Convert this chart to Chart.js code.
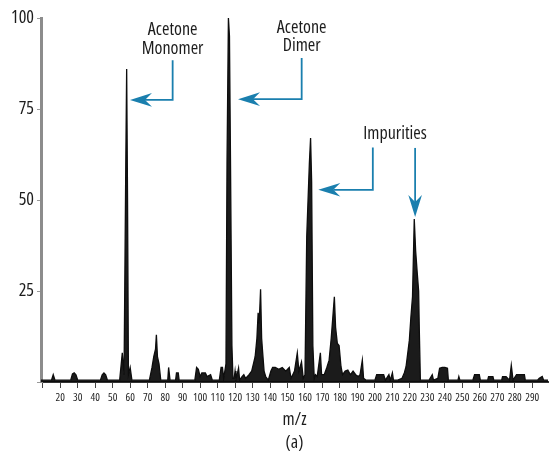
<!DOCTYPE html>
<html><head><meta charset="utf-8">
<script src="https://cdn.jsdelivr.net/npm/chart.js@4.4.1/dist/chart.umd.min.js"></script>
<style>html,body{margin:0;padding:0;background:#fff;}canvas{display:block;}</style>
</head><body>
<canvas id="c" width="551" height="455"></canvas>
<script>
// ---- data ----
const mzValues = [
  9,15,16,17,26,27,28,29,30,43,44,45,46,47,54,55.5,56.5,57.5,58,58.5,59,60,61,
  71,72.5,73.5,74.5,75,75.6,76.5,77.5,81.5,82,82.8,86,86.5,87.5,88,97,98,99,100,101,103,104,106,107,
  111,112,112.8,113.5,114.8,115.4,116.2,116.8,117.4,118.2,118.8,119.5,120,120.5,122,122.6,124,125,126,128,
  129.5,130.5,131.5,132.5,133.2,133.8,134.6,135.2,135.8,136.6,137.5,139,140.5,141.5,143,145,147,149,151,152,
  153,154,155.6,156.5,158,159,160,161,162.5,163.2,163.8,164.5,165.3,166,167,168.8,169.5,171,172.5,173.8,
  175,175.8,176.8,177.5,178.5,179.5,180.6,181.5,183,184.5,186,187.5,189,190.5,191.5,192.8,193.5,195,
  200,201,203,205,206,208,208.8,210,210.6,213,215.5,216.8,217.8,218.8,219.7,220.6,221.5,222.5,223.3,224.2,
  225,225.4,226,231,232.8,233.5,236,237,238.5,240,241.5,242,247.5,248,248.6,256,257,259.7,260.3,264.5,265,
  267.5,268,272.5,273,275,277,278,279,281,283,285.5,286,293,294,295.7,296.5,299
];
const intensities = [
  0.5,0.5,2,0.5,0.5,2.2,2.5,2,0.5,0.5,2,2.5,2,0.5,0.5,8,2,60,86,50,2,4,0.5,
  0.5,4,7,9,13,7,5,0.5,0.5,4,0.5,0.5,2.5,2.5,0.5,0.5,4,3.5,1.5,2.5,2.5,1.5,2,0.5,
  0.5,4,4,1,5,60,100,95,60,10,1,1,3,0.5,3.8,0.5,1.5,2,1,2,
  3,5,7,12,19,16,25.5,12,8,3,1.5,0.5,3,4,4,3.5,4,3,4,1,
  2,3,8,3,5.5,1,2,40,60,67,55,10,1,2,1.5,8,2,2,4,6,
  12,17,23.4,15,10.6,10,4.2,2,3,3.3,2,3,2,1.5,2,6,1,0.5,
  0.5,2,2,2,0.5,2,0.5,2.5,0.5,0.5,1,2.5,4.2,8,11.5,18,23.4,44.8,36,30,
  25,14,0.5,0.5,2,0.5,1,3.8,4,4,3.8,0.5,0.5,1.5,0.5,0.5,2,2,0.5,0.5,1.5,
  1.5,0.5,0.5,1.5,1.5,0.5,4.6,0.5,2,2,2,0.5,0.5,1,1.5,0.5,0.5
];
const xTickValues = [10,20,30,40,50,60,70,80,90,100,110,120,130,140,150,160,170,180,190,200,210,220,230,240,250,260,270,280,290];
const yTickValues = [0,25,50,75,100];
const xTitleLines = ['m/z', '(a)'];
const labelMonomer = ['Acetone', 'Monomer'];
const labelDimer = ['Acetone', 'Dimer'];
const labelImpurities = ['Impurities'];

// ---- styling / layout ----
const FONT = "'Open Sans', 'Roboto Condensed', sans-serif";
const STRETCH = 'condensed';
const BLUE = '#1a7fae';

// annotations in data coordinates
const annotations = {
  texts: [
    { lines: labelMonomer, x: 84.3, y: [96.7, 91.5] },
    { lines: labelDimer, x: 158.1, y: [97.3, 92.3] },
    { lines: labelImpurities, x: 211.5, y: [68.2] }
  ],
  arrows: [
    [[84.3, 88.4], [84.3, 77.5], [59.9, 77.5]],
    [[158.1, 89.0], [158.1, 77.7], [121.7, 77.7]],
    [[198.8, 64.4], [198.8, 52.8], [167.6, 52.8]],
    [[223.0, 64.3], [223.0, 45.3]]
  ]
};

const annotPlugin = {
  id: 'annot',
  afterDatasetsDraw(chart) {
    const { ctx, scales: { x, y } } = chart;
    ctx.save();
    ctx.font = STRETCH + ' 500 18px ' + FONT;
    ctx.fillStyle = '#1c1c1c';
    ctx.textAlign = 'center';
    ctx.textBaseline = 'middle';
    annotations.texts.forEach(t => {
      t.lines.forEach((s, i) => ctx.fillText(s, x.getPixelForValue(t.x), y.getPixelForValue(t.y[i])));
    });
    ctx.strokeStyle = BLUE;
    ctx.fillStyle = BLUE;
    ctx.lineWidth = 1.8;
    annotations.arrows.forEach(a => {
      const pts = a.map(p => [x.getPixelForValue(p[0]), y.getPixelForValue(p[1])]);
      const n = pts.length;
      const [tx, ty] = pts[n - 1];
      const [px, py] = pts[n - 2];
      const len = Math.hypot(tx - px, ty - py);
      const ux = (tx - px) / len, uy = (ty - py) / len;
      const L = 22, W = 6.8, notch = 15;
      ctx.beginPath();
      ctx.moveTo(pts[0][0], pts[0][1]);
      for (let i = 1; i < n - 1; i++) ctx.lineTo(pts[i][0], pts[i][1]);
      ctx.lineTo(tx - ux * notch, ty - uy * notch);
      ctx.stroke();
      const bx = tx - ux * L, by = ty - uy * L;
      ctx.beginPath();
      ctx.moveTo(tx, ty);
      ctx.lineTo(bx - uy * W, by + ux * W);
      ctx.lineTo(tx - ux * notch, ty - uy * notch);
      ctx.lineTo(bx + uy * W, by - ux * W);
      ctx.closePath();
      ctx.fill();
    });
    ctx.restore();
  }
};

new Chart(document.getElementById('c'), {
  type: 'line',
  data: {
    datasets: [{
      data: mzValues.map((m, i) => ({ x: m, y: intensities[i] })),
      borderColor: '#0d0d0d',
      borderWidth: 1.3,
      backgroundColor: 'rgba(8,8,8,0.92)',
      fill: 'origin',
      pointRadius: 0,
      tension: 0
    }]
  },
  options: {
    responsive: false,
    devicePixelRatio: 1,
    animation: false,
    layout: { padding: { left: 0, right: 3, top: 18, bottom: 0 } },
    plugins: { legend: { display: false }, tooltip: { enabled: false } },
    scales: {
      x: {
        type: 'linear',
        min: 9, max: 299,
        afterBuildTicks: s => { s.ticks = xTickValues.map(v => ({ value: v })); },
        afterFit: s => { s.height = 73; },
        ticks: {
          autoSkip: false, maxRotation: 0, minRotation: 0, padding: 3,
          color: '#1e1e1e',
          font: { family: FONT, size: 11, weight: STRETCH + ' 500' },
          callback: v => (v === xTickValues[0] ? '' : String(v))
        },
        grid: { drawOnChartArea: false, drawTicks: true, tickLength: 6, color: '#444', tickWidth: 1 },
        border: { display: true, color: '#333', width: 2 },
        title: {
          display: true, text: xTitleLines, color: '#1c1c1c',
          font: { family: FONT, size: 18, weight: STRETCH + ' 500', lineHeight: 1.28 },
          padding: { top: 0, bottom: 1 }
        }
      },
      y: {
        min: 0, max: 100,
        afterBuildTicks: s => { s.ticks = yTickValues.map(v => ({ value: v })); },
        afterFit: s => { s.width = 41; },
        ticks: {
          padding: 3, color: '#1c1c1c',
          font: { family: FONT, size: 18, weight: STRETCH + ' 500' },
          callback: v => (v === 0 ? '' : String(v))
        },
        grid: { drawOnChartArea: false, drawTicks: true, tickLength: 4, color: '#999' },
        border: { display: true, color: '#8c8c8c', width: 3 }
      }
    }
  },
  plugins: [annotPlugin]
});
</script>
</body></html>
